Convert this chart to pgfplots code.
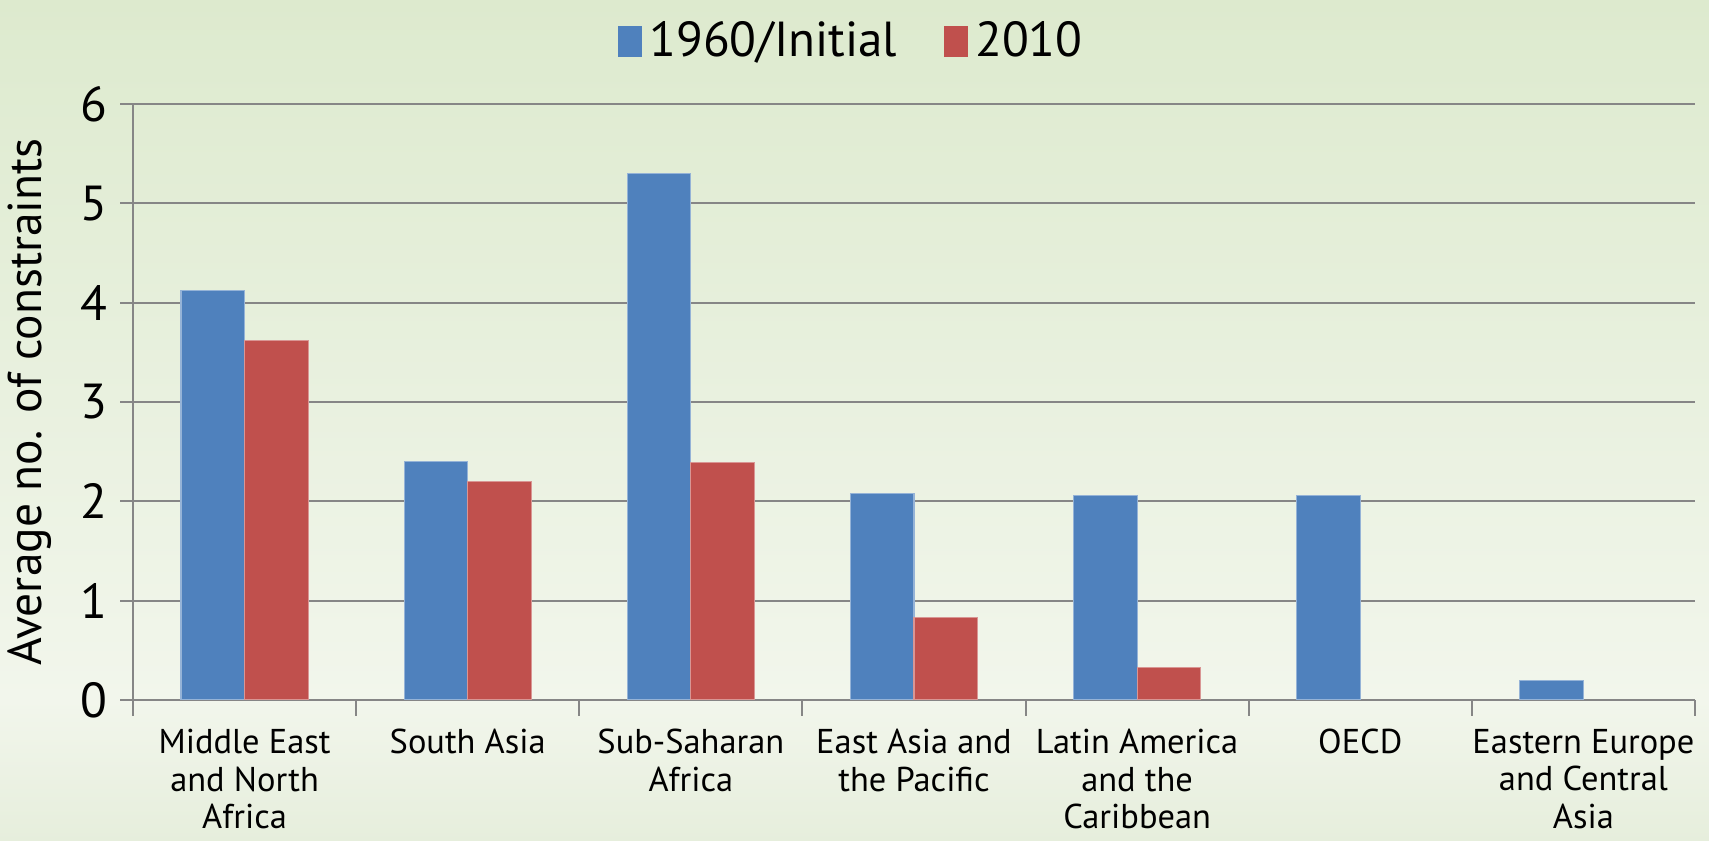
\documentclass[border=0pt]{standalone}
\usepackage{pgfplots}
\pgfplotsset{compat=1.18}
\usepackage{fontspec}
\setmainfont{PT Sans}
\definecolor{cblue}{HTML}{4F81BD}
\definecolor{cred}{HTML}{C0504D}
\definecolor{gridc}{HTML}{868686}
\definecolor{bgtop}{HTML}{DDEACE}
\definecolor{bgmid}{HTML}{F2F6EC}
\definecolor{bgbot}{HTML}{E6EEDC}
\begin{document}
\begin{tikzpicture}
\shade[top color=bgtop, bottom color=bgmid] (0,14.1mm) rectangle (170.9mm,84.1mm);
\shade[top color=bgmid, bottom color=bgbot] (0,0) rectangle (170.9mm,14.1mm);
\begin{axis}[
  at={(13.3mm,14.1mm)}, anchor=south west,
  width=156.2mm, height=59.6mm, scale only axis,
  xmin=-0.5, xmax=6.5, ymin=0, ymax=6,
  ybar=0pt, bar width=0.285,
  axis x line*=bottom, axis y line*=left,
  axis line style={draw=gridc, line width=0.6pt, -},
  tick align=outside,
  /pgf/number format/assume math mode=true,
  ytick={0,1,2,3,4,5,6},
  ymajorgrids, grid style={draw=gridc, line width=0.6pt},
  major tick length=1.3mm, minor tick length=1.6mm,
  every tick/.style={draw=gridc, line width=0.6pt},
  xtick={0,1,2,3,4,5,6},
  major x tick style={draw=none},
  minor xtick={-0.5,0.5,1.5,2.5,3.5,4.5,5.5,6.5},
  xticklabels={{Middle East\\and North\\Africa},{South Asia},{Sub-Saharan\\Africa},{East Asia and\\the Pacific},{Latin America\\and the\\Caribbean},{OECD},{Eastern Europe\\and Central\\Asia}},
  xticklabel style={align=center, anchor=north, yshift=-0.4mm, font=\fontsize{9.8}{10.6}\selectfont},
  yticklabel style={font=\fontsize{14}{16}\selectfont},
  ylabel={Average no. of constraints},
  ylabel style={at={(axis description cs:-0.066,0.5)}, anchor=center, font=\fontsize{13.5}{16}\selectfont},
  legend style={at={(axis description cs:0.4616,1.105)}, anchor=center, draw=none, fill=none,
    legend columns=2, font=\fontsize{14}{17}\selectfont,
    /tikz/every even column/.append style={column sep=4mm}},
]
\addplot[fill=cblue, draw=cblue!60!white, line width=0.3pt,
  legend image code/.code={\fill[cblue] (0mm,-1.5mm) rectangle (2.3mm,1.5mm);}]
  coordinates {(0,4.12) (1,2.40) (2,5.30) (3,2.08) (4,2.06) (5,2.06) (6,0.20)};
\addlegendentry{1960/Initial}
\addplot[fill=cred, draw=cred!60!white, line width=0.3pt,
  legend image code/.code={\fill[cred] (0mm,-1.5mm) rectangle (2.3mm,1.5mm);}]
  coordinates {(0,3.62) (1,2.20) (2,2.39) (3,0.83) (4,0.33)};
\addlegendentry{2010}
\end{axis}
\pgfresetboundingbox
\useasboundingbox (0,0) rectangle (170.9mm,84.1mm);
\end{tikzpicture}
\end{document}
